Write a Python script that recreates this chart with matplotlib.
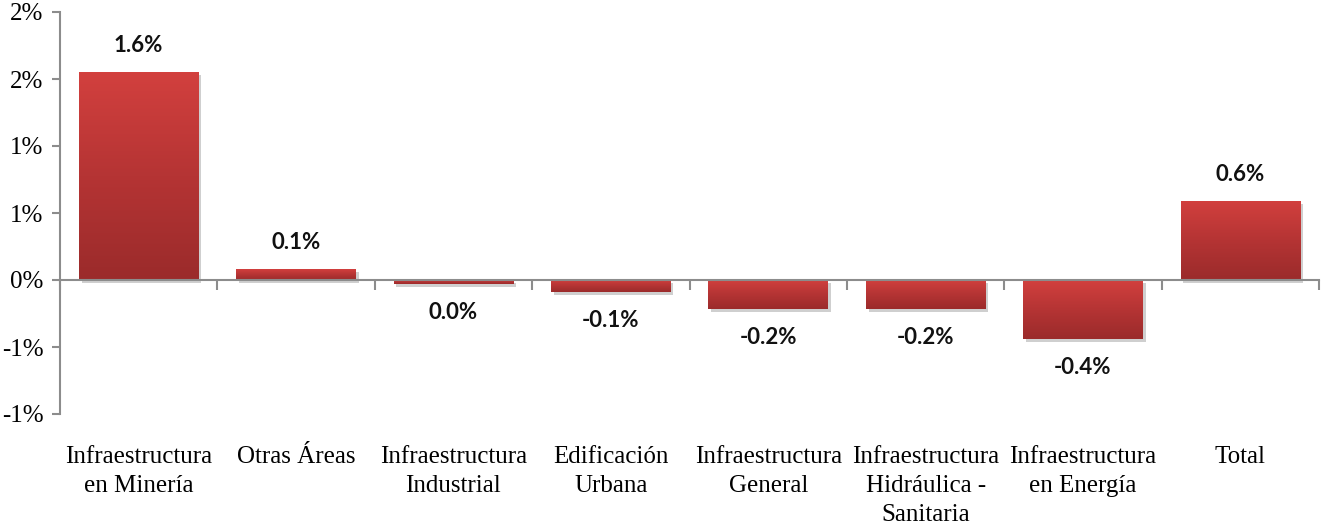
import numpy as np
import matplotlib
matplotlib.use("Agg")
import matplotlib.pyplot as plt
import matplotlib.patheffects as pe
from matplotlib.colors import LinearSegmentedColormap
from matplotlib.transforms import blended_transform_factory

categories = ["Infraestructura\nen Minería", "Otras Áreas", "Infraestructura\nIndustrial",
              "Edificación\nUrbana", "Infraestructura\nGeneral", "Infraestructura\nHidráulica -\nSanitaria",
              "Infraestructura\nen Energía", "Total"]
values = [1.55, 0.08, -0.03, -0.09, -0.22, -0.22, -0.44, 0.59]
value_labels = ["1.6%", "0.1%", "0.0%", "-0.1%", "-0.2%", "-0.2%", "-0.4%", "0.6%"]
yticks = [-1.0, -0.5, 0.0, 0.5, 1.0, 1.5, 2.0]
ytick_labels = ["-1%", "-1%", "0%", "1%", "1%", "2%", "2%"]

AXIS = "#8c8c8c"
grad = LinearSegmentedColormap.from_list("red_grad", ["#d2403e", "#b53434", "#9b2b2b"])

fig = plt.figure(figsize=(13.21, 5.31), dpi=100)
ax = fig.add_axes([60 / 1321, 1 - 414 / 531, 1259 / 1321, 402 / 531])

x = np.arange(len(categories))
bars = ax.bar(x, values, width=0.76, color="#b53434", zorder=2)

# gradient fill + soft shadow on each bar
for bar in bars:
    bar.set_path_effects([pe.SimplePatchShadow(offset=(2, -2), shadow_rgbFace="#777777", alpha=0.35),
                          pe.Normal()])
    x0, y0 = bar.get_x(), bar.get_y()
    w, h = bar.get_width(), bar.get_height()
    top, bottom = max(y0, y0 + h), min(y0, y0 + h)
    img = ax.imshow(np.linspace(0, 1, 100).reshape(-1, 1), cmap=grad, aspect="auto",
                    extent=[x0, x0 + w, bottom, top], origin="upper", zorder=3)
    img.set_clip_path(bar)

# value labels
for xi, v, lab in zip(x, values, value_labels):
    off = 0.2 if v >= 0 else -0.21
    ax.text(xi, v + off, lab, ha="center", va="center", fontsize=16,
            fontweight="bold", family="Lato", color="#111111")

ax.set_xlim(-0.5, len(categories) - 0.5)
ax.set_ylim(-1.0, 2.0)
ax.set_yticks(yticks)
ax.set_yticklabels(ytick_labels, family="Liberation Serif", fontsize=18)
ax.tick_params(axis="y", direction="out", length=6, width=1.5, color=AXIS, pad=6)

# zero line with category boundary ticks
ax.spines["bottom"].set_position(("data", 0))
ax.spines["bottom"].set_color(AXIS)
ax.spines["bottom"].set_linewidth(1.5)
ax.spines["bottom"].set_zorder(4)
ax.set_xticks(np.arange(-0.5, len(categories)), minor=False)
ax.set_xticklabels([])
ax.tick_params(axis="x", direction="out", length=7, width=1.5, color=AXIS)
ax.spines["left"].set_color(AXIS)
ax.spines["left"].set_linewidth(1.5)
ax.spines["top"].set_visible(False)
ax.spines["right"].set_visible(False)

trans = blended_transform_factory(ax.transData, ax.transAxes)
for xi, cat in zip(x, categories):
    ax.text(xi, -0.08, cat, transform=trans, ha="center", va="top", multialignment="center",
            family="Liberation Serif", fontsize=18, linespacing=1.42)

fig.savefig("out.png", dpi=100, facecolor="white")
